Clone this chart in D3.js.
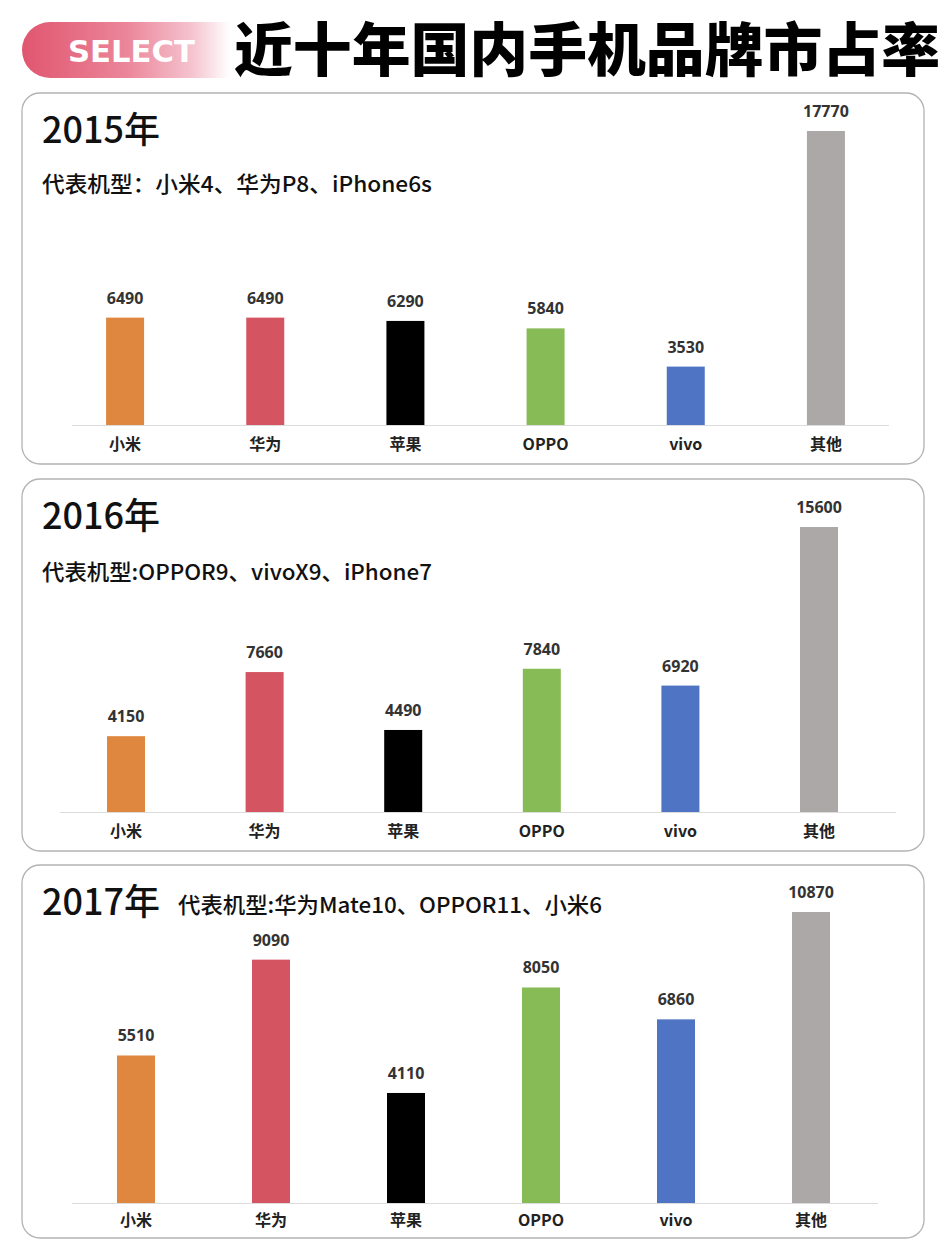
<!DOCTYPE html>
<html>
<head>
<meta charset="utf-8">
<script src="https://cdn.jsdelivr.net/npm/d3@7/dist/d3.min.js"></script>
<style>
  html, body { margin: 0; padding: 0; background: #ffffff; }
  svg { display: block; }
</style>
</head>
<body>
<svg id="chart" width="946" height="1249"></svg>
<script>
// ---------- DATA ----------
const mainTitle = "近十年国内手机品牌市占率";
const badgeText = "SELECT";
const categories = ["小米", "华为", "苹果", "OPPO", "vivo", "其他"];
const years = ["2015年", "2016年", "2017年"];
const subtitles = [
  "代表机型：小米4、华为P8、iPhone6s",
  "代表机型:OPPOR9、vivoX9、iPhone7",
  "代表机型:华为Mate10、OPPOR11、小米6"
];
const values2015 = [6490, 6490, 6290, 5840, 3530, 17770];
const values2016 = [4150, 7660, 4490, 7840, 6920, 15600];
const values2017 = [5510, 9090, 4110, 8050, 6860, 10870];
const barColors = ["#e0873f", "#d45462", "#000000", "#86bb55", "#4f74c4", "#aca8a8"];

const seriesByYear = [values2015, values2016, values2017];

// ---------- LAYOUT ----------
const layouts = [
  { top: 93,  bottom: 464,  base: 425,  maxH: 294, xr: [55, 896],    line: [72, 889], yearY: 143, yearX: 42, subX: 42,  subY: 192, subW: 390, catDy: 25 },
  { top: 479, bottom: 851,  base: 812,  maxH: 285, xr: [56.7, 888.3], line: [60, 896], yearY: 529, yearX: 42, subX: 42,  subY: 580, subW: 390, catDy: 25 },
  { top: 865, bottom: 1238, base: 1203, maxH: 291, xr: [68.5, 878.5], line: [72, 878], yearY: 915, yearX: 42, subX: 178, subY: 913, subW: 424, catDy: 23 }
];

const svg = d3.select("#chart");
const FONT = "'Noto Sans CJK SC', 'Noto Sans', sans-serif";

// ---------- HEADER ----------
const defs = svg.append("defs");
const grad = defs.append("linearGradient").attr("id", "pillGrad")
  .attr("x1", "0%").attr("x2", "100%").attr("y1", "0%").attr("y2", "0%");
grad.append("stop").attr("offset", "0%").attr("stop-color", "#e0566f");
grad.append("stop").attr("offset", "50%").attr("stop-color", "#eb8599");
grad.append("stop").attr("offset", "82%").attr("stop-color", "#f5c4cf");
grad.append("stop").attr("offset", "100%").attr("stop-color", "#ffffff");

const pillX = 22, pillY = 22, pillW = 208, pillH = 56, r = 28;
svg.append("path")
  .attr("d", `M${pillX + r},${pillY} H${pillX + pillW} V${pillY + pillH} H${pillX + r} A${r},${r} 0 0 1 ${pillX + r},${pillY} Z`)
  .attr("fill", "url(#pillGrad)");

svg.append("text")
  .attr("x", 68).attr("y", 62)
  .attr("font-family", "'DejaVu Sans', sans-serif")
  .attr("font-weight", "bold")
  .attr("font-size", 30)
  .attr("textLength", 127)
  .attr("lengthAdjust", "spacingAndGlyphs")
  .attr("fill", "#ffffff")
  .text(badgeText);

svg.append("text")
  .attr("x", 234).attr("y", 71)
  .attr("font-family", FONT)
  .attr("font-weight", 900)
  .attr("font-size", 58)
  .attr("textLength", 706)
  .attr("lengthAdjust", "spacingAndGlyphs")
  .attr("fill", "#000000")
  .text(mainTitle);

// ---------- PANELS ----------
layouts.forEach((L, i) => {
  const vals = seriesByYear[i];
  const g = svg.append("g");

  g.append("rect")
    .attr("x", 22).attr("y", L.top)
    .attr("width", 902).attr("height", L.bottom - L.top)
    .attr("rx", 18).attr("ry", 18)
    .attr("fill", "#ffffff")
    .attr("stroke", "#b3b3b3")
    .attr("stroke-width", 1.3);

  g.append("text")
    .attr("x", L.yearX).attr("y", L.yearY)
    .attr("font-family", FONT).attr("font-weight", 500)
    .attr("font-size", 36).attr("fill", "#111")
    .text(years[i]);

  g.append("text")
    .attr("x", L.subX).attr("y", L.subY)
    .attr("font-family", FONT).attr("font-weight", 500)
    .attr("font-size", 22).attr("fill", "#111")
    .attr("textLength", L.subW)
    .attr("lengthAdjust", "spacingAndGlyphs")
    .text(subtitles[i]);

  const x = d3.scaleBand().domain(categories).range(L.xr).padding(0);
  const y = d3.scaleLinear().domain([0, d3.max(vals)]).range([L.base, L.base - L.maxH]);
  const bw = 38;

  g.append("line")
    .attr("x1", L.line[0]).attr("x2", L.line[1])
    .attr("y1", L.base + 0.5).attr("y2", L.base + 0.5)
    .attr("stroke", "#dcdcdc").attr("stroke-width", 1.2);

  const data = categories.map((c, k) => ({ c, v: vals[k], color: barColors[k] }));

  g.selectAll("rect.bar").data(data).join("rect")
    .attr("class", "bar")
    .attr("x", d => x(d.c) + x.bandwidth() / 2 - bw / 2)
    .attr("y", d => y(d.v))
    .attr("width", bw)
    .attr("height", d => y(0) - y(d.v))
    .attr("fill", d => d.color);

  g.selectAll("text.val").data(data).join("text")
    .attr("class", "val")
    .attr("x", d => x(d.c) + x.bandwidth() / 2)
    .attr("y", d => y(d.v) - 14)
    .attr("text-anchor", "middle")
    .attr("font-family", "'Open Sans', 'Noto Sans', sans-serif")
    .attr("font-weight", 700)
    .attr("font-size", 16)
    .attr("fill", "#333")
    .text(d => d.v);

  g.selectAll("text.cat").data(data).join("text")
    .attr("class", "cat")
    .attr("x", d => x(d.c) + x.bandwidth() / 2)
    .attr("y", L.base + L.catDy)
    .attr("text-anchor", "middle")
    .attr("font-family", FONT)
    .attr("font-weight", 700)
    .attr("font-size", 16)
    .attr("fill", "#222")
    .text(d => d.c);
});
</script>
</body>
</html>
